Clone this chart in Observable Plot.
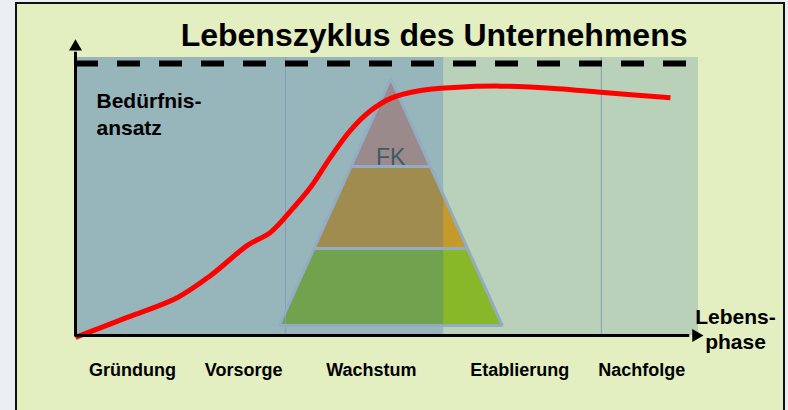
<!DOCTYPE html>
<html><head><meta charset="utf-8">
<script src="https://cdn.jsdelivr.net/npm/d3@7"></script>
<script src="https://cdn.jsdelivr.net/npm/@observablehq/plot@0.6"></script>
<style>
html,body{margin:0;padding:0;background:#eceff2;width:788px;height:410px;overflow:hidden;}
#box{position:absolute;left:15px;top:2px;width:766px;height:440px;border:2px solid #111;background:#e3efc1;}
#chart{position:absolute;left:0;top:0;}
</style></head><body><div id="box"></div><div id="chart"></div>
<script>
// ---- data ----
const title = "Lebenszyklus des Unternehmens";
const yLabel = "Bedürfnis-\nansatz";
const xLabel = "Lebens-\nphase";
const phaseNames = ["Gründung", "Vorsorge", "Wachstum", "Etablierung", "Nachfolge"];
const phaseCenters = [9.15, 27.0, 47.5, 71.3, 90.9];
const phaseBounds = [33.7, 59.1, 84.4];
const curveX = [0, 8.3, 16.4, 21.7, 27.6, 31.3, 35.0, 37.7, 40.9, 44.1, 47.4, 50.6, 55.4, 60.7, 68.2, 77.4, 84.3, 95.5];
const curveY = [-0.7, 6.5, 13.7, 21.6, 32.4, 37.1, 46.0, 53.2, 64.0, 73.7, 80.9, 85.3, 88.1, 89.2, 89.7, 88.8, 87.5, 85.5];
const needLevel = 97.8;      // dashed Bedürfnis line
const needEnd = 98.4;
const pyramidCenter = 50.6;
const pyramidBaseHalf = 17.9;
const tierBreaks = [3.6, 31.3, 60.8, 92.4]; // base, two separators, apex
const tierLabel = "FK";
const axisTop = 103.85;
const axisRight = 99.6;

// ---- styles ----
const tierColors = ["#88b82a", "#c49a2a", "#bf977a"];
const outlineColor = "#93acc4";

// ---- build ----
const apex = tierBreaks[tierBreaks.length - 1];
const base = tierBreaks[0];
const half = y => pyramidBaseHalf * (apex - y) / (apex - base);
const tiers = [];
for (let i = 0; i < tierBreaks.length - 1; i++) {
  for (const y of [tierBreaks[i], tierBreaks[i + 1]]) {
    tiers.push({tier: i, y, x1: pyramidCenter - half(y), x2: pyramidCenter + half(y)});
  }
}
const outline = [
  {x: pyramidCenter - half(base), y: base},
  {x: pyramidCenter, y: apex},
  {x: pyramidCenter + half(base), y: base},
  {x: pyramidCenter - half(base), y: base}
];
const separators = tierBreaks.slice(1, -1).map(y => ({y, x1: pyramidCenter - half(y), x2: pyramidCenter + half(y)}));
const curve = curveX.map((x, i) => ({x, y: curveY[i]}));
const phases = phaseNames.map((name, i) => ({name, x: phaseCenters[i]}));
const font = "'Liberation Sans', Arial, Helvetica, sans-serif";

const plot = Plot.plot({
  width: 788, height: 410,
  marginLeft: 75, marginRight: 90, marginTop: 57, marginBottom: 75,
  x: {domain: [0, 100], axis: null},
  y: {domain: [0, 100], axis: null},
  style: {background: "transparent", fontFamily: font, overflow: "visible"},
  marks: [
    Plot.rect([0], {x1: 0, x2: 100, y1: 0, y2: 100, fill: "#b9d1b9"}),
    Plot.areaX(tiers, {y: "y", x1: "x1", x2: "x2", z: "tier", fill: d => tierColors[d.tier], curve: "linear"}),
    Plot.rect([0], {x1: 0, x2: phaseBounds[1], y1: 0, y2: 100, fill: "rgb(38,95,200)", fillOpacity: 0.23}),
    Plot.ruleX([phaseBounds[0], phaseBounds[2]], {y1: 0, y2: 100, stroke: "#7f9dbd", strokeWidth: 1}),
    Plot.line(outline, {x: "x", y: "y", stroke: outlineColor, strokeWidth: 3, strokeLinejoin: "miter"}),
    Plot.ruleY(separators, {y: "y", x1: "x1", x2: "x2", stroke: outlineColor, strokeWidth: 3}),
    Plot.text([tierLabel], {x: pyramidCenter, y: tierBreaks[2], text: d => d, lineAnchor: "bottom", dy: -1, fontSize: 23, fill: "#3d5c60", fontWeight: "normal"}),
    Plot.ruleY([needLevel], {x1: 0, x2: needEnd, stroke: "black", strokeWidth: 6, strokeDasharray: "23,19"}),
    Plot.line(curve, {x: "x", y: "y", stroke: "#ff0000", strokeWidth: 5, curve: "catmull-rom", strokeLinecap: "butt"}),
    Plot.ruleX([0], {y1: -0.5, y2: axisTop - 2, stroke: "black", strokeWidth: 3}),
    Plot.ruleY([0], {x1: 0, x2: axisRight - 1, stroke: "black", strokeWidth: 3}),
    Plot.dot([{x: 0, y: axisTop, r: 0}, {x: axisRight, y: 0, r: 90}], {x: "x", y: "y", rotate: "r", symbol: "triangle2", r: 6.2, fill: "black", stroke: null}),
    Plot.text([title], {frameAnchor: "top-right", text: d => d, textAnchor: "end", lineAnchor: "bottom", dx: -11, dy: -12, fontSize: 32, fontWeight: "bold", fill: "black"}),
    Plot.text([yLabel], {frameAnchor: "top-left", text: d => d, textAnchor: "start", lineAnchor: "bottom", dx: 21, dy: 77, fontSize: 21, lineHeight: 1.25, fontWeight: "bold", fill: "black"}),
    Plot.text([xLabel], {frameAnchor: "bottom-right", text: d => d, textAnchor: "middle", lineAnchor: "bottom", dx: 37, dy: 13, fontSize: 21, lineHeight: 1.15, fontWeight: "bold", fill: "black"}),
    Plot.text(phases, {x: "x", frameAnchor: "bottom", text: "name", lineAnchor: "bottom", dy: 40, fontSize: 18, fontWeight: "bold", fill: "black"})
  ]
});
document.getElementById("chart").appendChild(plot);
</script>
</body></html>
